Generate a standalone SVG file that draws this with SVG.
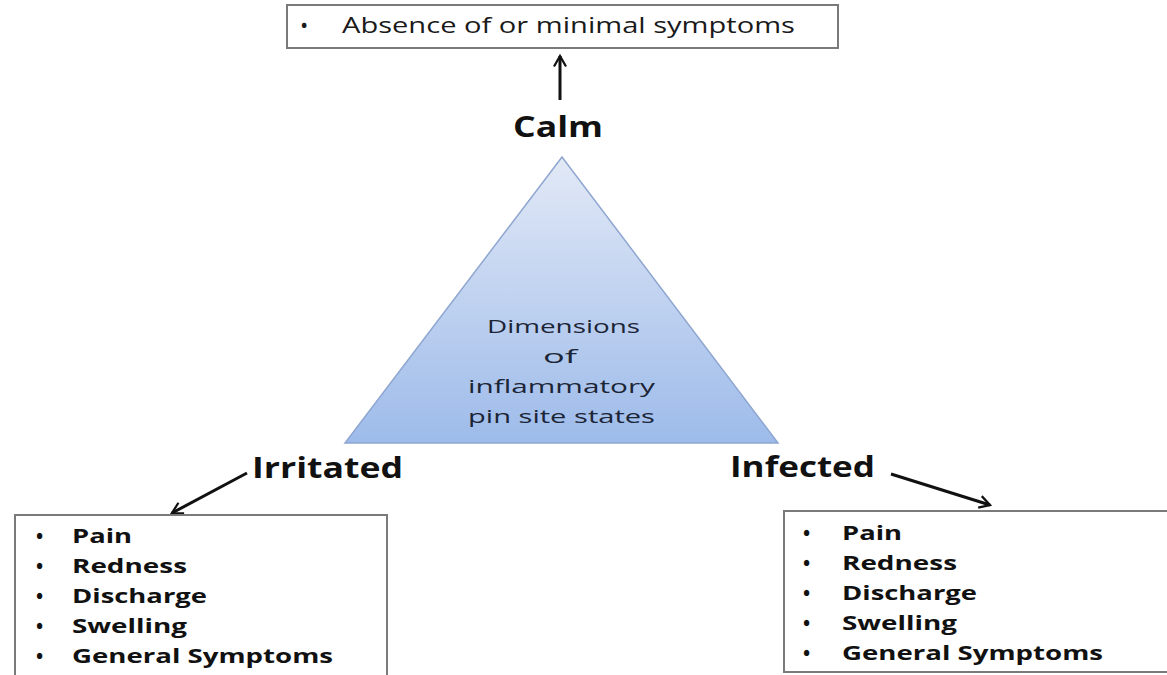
<svg xmlns="http://www.w3.org/2000/svg" width="1167" height="675" viewBox="0 0 1167 675">
<style>
.box{fill:#fff;stroke:#7a7a7a;stroke-width:2}
.t{font-family:"Open Sans","Liberation Sans",sans-serif;fill:#1a1a1a}
.item{font-family:"Open Sans","Liberation Sans",sans-serif;font-weight:bold;font-size:19px;fill:#111}
.lbl{font-family:"Open Sans","Liberation Sans",sans-serif;font-weight:bold;font-size:28px;fill:#111}
.tri{font-family:"Open Sans","Liberation Sans",sans-serif;font-size:19px;fill:#1c2536}
.conn{stroke:#111;stroke-width:3;fill:none;marker-end:url(#ah)}
</style>
<defs>
<linearGradient id="g" x1="0" y1="0" x2="0" y2="1">
<stop offset="0" stop-color="#e2e9f6"/>
<stop offset="1" stop-color="#9dbbea"/>
</linearGradient>
<marker id="ah" viewBox="0 0 10 10" refX="8" refY="5" markerWidth="5" markerHeight="5" orient="auto" markerUnits="strokeWidth">
<path d="M1,1 L8,5 L1,9" fill="none" stroke="#111" stroke-width="1.5"/>
</marker>
</defs>
<rect width="1167" height="675" fill="#fff"/>
<g id="connectors">
<line class="conn" x1="560" y1="100" x2="560" y2="56"/>
<line class="conn" x1="247" y1="473" x2="172" y2="513"/>
<line class="conn" x1="891" y1="474" x2="990" y2="505"/>
</g>
<g id="calm-box">
<rect class="box" x="287" y="5" width="551" height="43"/>
<text class="t" x="300" y="33" font-size="22">•</text>
<text class="t" x="342" y="33" font-size="21" textLength="453" lengthAdjust="spacingAndGlyphs">Absence of or minimal symptoms</text>
</g>
<g id="calm"><text class="lbl" x="513" y="137" textLength="90" lengthAdjust="spacingAndGlyphs">Calm</text></g>
<g id="triangle">
<polygon points="562,157 345,443 778,443" fill="url(#g)" stroke="#8fa6d0" stroke-width="1.5"/>
<text class="tri" x="487" y="333" textLength="153" lengthAdjust="spacingAndGlyphs">Dimensions</text>
<text class="tri" x="543" y="363" textLength="34" lengthAdjust="spacingAndGlyphs">of</text>
<text class="tri" x="468" y="393" textLength="187" lengthAdjust="spacingAndGlyphs">inflammatory</text>
<text class="tri" x="468" y="423" textLength="187" lengthAdjust="spacingAndGlyphs">pin site states</text>
</g>
<g id="irritated"><text class="lbl" x="252" y="478" textLength="151" lengthAdjust="spacingAndGlyphs">Irritated</text></g>
<g id="infected"><text class="lbl" x="730" y="477" textLength="145" lengthAdjust="spacingAndGlyphs">Infected</text></g>
<g id="irritated-box">
<rect class="box" x="15" y="515" width="372" height="170"/>
<g class="item">
<text x="36" y="543">•</text><text x="72" y="543" textLength="60" lengthAdjust="spacingAndGlyphs">Pain</text>
<text x="36" y="573">•</text><text x="72" y="573" textLength="115" lengthAdjust="spacingAndGlyphs">Redness</text>
<text x="36" y="603">•</text><text x="72" y="603" textLength="135" lengthAdjust="spacingAndGlyphs">Discharge</text>
<text x="36" y="633">•</text><text x="72" y="633" textLength="115" lengthAdjust="spacingAndGlyphs">Swelling</text>
<text x="36" y="663">•</text><text x="72" y="663" textLength="261" lengthAdjust="spacingAndGlyphs">General Symptoms</text>
</g>
</g>
<g id="infected-box">
<rect class="box" x="784" y="511" width="400" height="161"/>
<g class="item">
<text x="803" y="540">•</text><text x="842" y="540" textLength="60" lengthAdjust="spacingAndGlyphs">Pain</text>
<text x="803" y="570">•</text><text x="842" y="570" textLength="115" lengthAdjust="spacingAndGlyphs">Redness</text>
<text x="803" y="600">•</text><text x="842" y="600" textLength="135" lengthAdjust="spacingAndGlyphs">Discharge</text>
<text x="803" y="630">•</text><text x="842" y="630" textLength="115" lengthAdjust="spacingAndGlyphs">Swelling</text>
<text x="803" y="660">•</text><text x="842" y="660" textLength="261" lengthAdjust="spacingAndGlyphs">General Symptoms</text>
</g>
</g>
</svg>
